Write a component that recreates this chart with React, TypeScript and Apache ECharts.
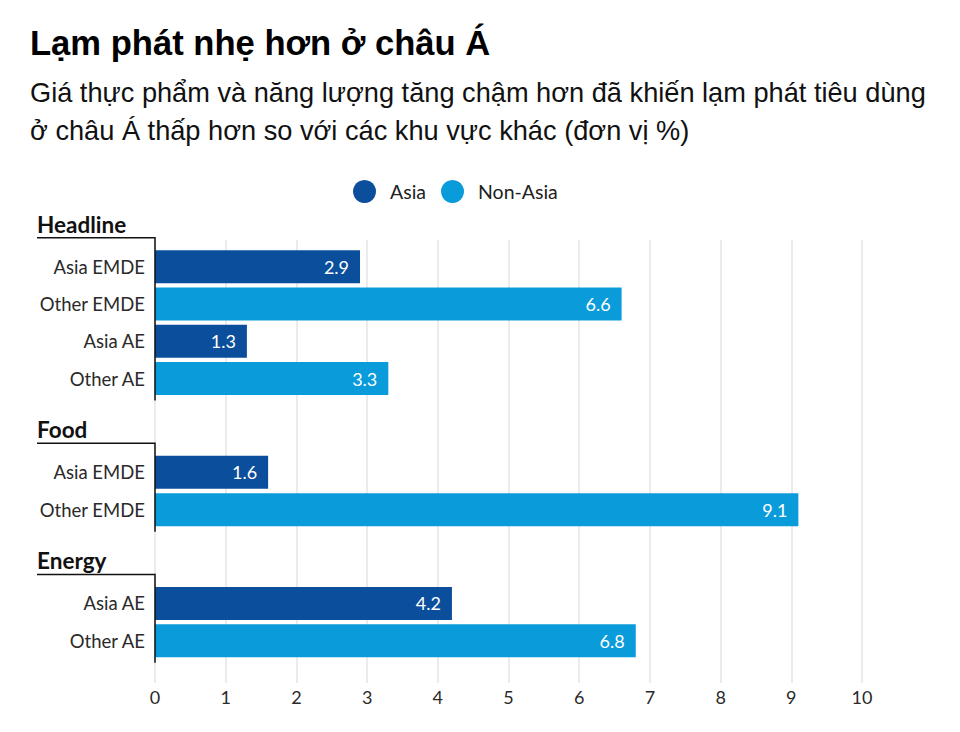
import React, { useEffect, useRef } from 'react';
import * as echarts from 'echarts';

const TITLE = 'Lạm phát nhẹ hơn ở châu Á';
const SUBTITLE =
  'Giá thực phẩm và năng lượng tăng chậm hơn đã khiến lạm phát tiêu dùng\nở châu Á thấp hơn so với các khu vực khác (đơn vị %)';

const seriesNames = ['Asia', 'Non-Asia'];
const seriesColors = ['#0b4e9b', '#0a9bdb'];
const groupNames = ['Headline', 'Food', 'Energy'];
const rowLabels = ['Asia EMDE', 'Other EMDE', 'Asia AE', 'Other AE', 'Asia EMDE', 'Other EMDE', 'Asia AE', 'Other AE'];
const rowGroups = [0, 0, 0, 0, 1, 1, 2, 2];
const rowSeries = [0, 1, 0, 1, 0, 1, 0, 1];
const rowValues = [2.9, 6.6, 1.3, 3.3, 1.6, 9.1, 4.2, 6.8];
const xMin = 0;
const xMax = 10;
const xInterval = 1;

const FONT = 'Lato, "Noto Sans", sans-serif';
const ARIAL = '"Liberation Sans", Arial, sans-serif';

export default function App() {
  const ref = useRef<HTMLDivElement>(null);

  useEffect(() => {
    if (!ref.current) return;
    const chart = echarts.init(ref.current, undefined, { renderer: 'svg' });

    const PLOT_LEFT = 155;
    const PLOT_WIDTH = 707;
    const ROW_H = 37.3;
    const GROUP_GAP = 56.5;
    let top = 248;

    const grids: any[] = [{ left: PLOT_LEFT, width: PLOT_WIDTH, top: 240, height: 443 }];
    const xAxes: any[] = [
      {
        gridIndex: 0,
        type: 'value',
        min: xMin,
        max: xMax,
        interval: xInterval,
        axisLine: { show: false },
        axisTick: { show: false },
        splitLine: { show: true, lineStyle: { color: '#e4e4e4', width: 1.5 } },
        axisLabel: { fontFamily: FONT, fontSize: 18, color: '#2a2a2a', margin: 5 },
      },
    ];
    const yAxes: any[] = [{ gridIndex: 0, type: 'value', show: false }];
    const series: any[] = [];
    const groupRows: number[][] = [];

    groupNames.forEach((_, gi) => {
      const rows = rowGroups.map((g, i) => (g === gi ? i : -1)).filter((i) => i >= 0);
      groupRows.push(rows);
      const h = rows.length * ROW_H;
      grids.push({ left: PLOT_LEFT, width: PLOT_WIDTH, top, height: h });
      top += h + GROUP_GAP;
      xAxes.push({ gridIndex: gi + 1, type: 'value', min: xMin, max: xMax, show: false });
      yAxes.push({
        gridIndex: gi + 1,
        type: 'category',
        inverse: true,
        data: rows.map((i) => rowLabels[i]),
        axisLine: { show: false },
        axisTick: { show: false },
        axisLabel: { interval: 0, margin: 10, fontFamily: FONT, fontSize: 18.5, color: '#2a2a2a' },
      });
      seriesNames.forEach((name, si) => {
        series.push({
          name,
          type: 'bar',
          xAxisIndex: gi + 1,
          yAxisIndex: gi + 1,
          stack: 'g' + gi,
          barWidth: 33,
          itemStyle: { color: seriesColors[si] },
          label: {
            show: true,
            position: 'insideRight',
            distance: 11,
            color: '#fff',
            fontFamily: FONT,
            fontSize: 18,
            formatter: (p: any) => Number(p.value).toFixed(1),
          },
          data: rows.map((i) => (rowSeries[i] === si ? rowValues[i] : '-')),
        });
      });
    });

    const option: any = {
      animation: false,
      backgroundColor: '#ffffff',
      title: {
        text: TITLE,
        subtext: SUBTITLE,
        left: 30,
        top: 25,
        padding: 0,
        itemGap: 13,
        textStyle: { fontFamily: ARIAL, fontSize: 34.6, fontWeight: 'bold', color: '#000' },
        subtextStyle: { fontFamily: ARIAL, fontSize: 27.2, color: '#111', lineHeight: 38 },
      },
      legend: {
        data: seriesNames,
        left: 353,
        top: 180,
        padding: 0,
        icon: 'circle',
        itemWidth: 23,
        itemHeight: 23,
        itemGap: 15,
        textStyle: { fontFamily: FONT, fontSize: 19.5, color: '#222', padding: [0, 0, 0, 9] },
      },
      grid: grids,
      xAxis: xAxes,
      yAxis: yAxes,
      series,
    };
    chart.setOption(option);

    const graphics: any[] = [];
    groupNames.forEach((g, gi) => {
      const rows = groupRows[gi];
      const yPix = (k: number) => chart.convertToPixel({ yAxisIndex: gi + 1 } as any, k) as number;
      const x0 = chart.convertToPixel({ xAxisIndex: gi + 1 } as any, 0) as number;
      const yFirst = yPix(0);
      const yLast = yPix(rows.length - 1);
      const yLine = yFirst - 29;
      const yEnd = yLast + 22;
      graphics.push({
        type: 'polyline',
        shape: { points: [[37, yLine], [x0, yLine], [x0, yEnd]] },
        style: { stroke: '#111', lineWidth: 1.5, fill: null },
        z: 10,
      });
      graphics.push({
        type: 'text',
        x: 37,
        y: yLine - 2,
        style: {
          text: g,
          fontFamily: FONT,
          fontSize: 22.5,
          fontWeight: 'bold',
          fill: '#111',
          verticalAlign: 'bottom',
          align: 'left',
        },
        z: 10,
      });
    });
    chart.setOption({ graphic: graphics });

    return () => chart.dispose();
  }, []);

  return (
    <div
      ref={ref}
      style={{ position: 'fixed', left: 0, top: 0, width: 960, height: 732 }}
    />
  );
}
